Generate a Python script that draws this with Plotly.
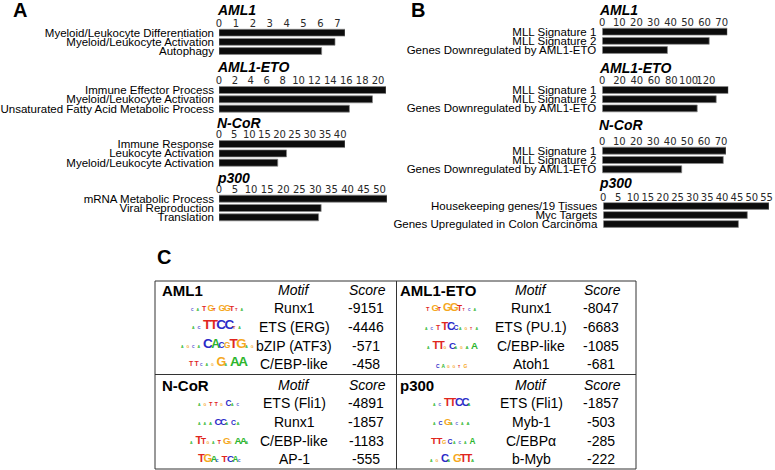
import plotly.graph_objects as go

W, H = 775, 470


def fx(x):
    return x / W


def fy(y):
    return 1 - y / H


# ---------------- Panel A data (GO terms) ----------------
groups = ["AML1", "AML1-ETO", "N-CoR", "p300"]

a_aml1_terms = ["Myeloid/Leukocyte Differentiation", "Myeloid/Leukocyte Activation", "Autophagy"]
a_aml1_vals = [7.45, 6.86, 6.07]
a_aml1eto_terms = ["Immune Effector Process", "Myeloid/Leukocyte Activation",
                   "Unsaturated Fatty Acid Metabolic Process"]
a_aml1eto_vals = [21.0, 19.3, 16.4]
a_ncor_terms = ["Immune Response", "Leukocyte Activation", "Myeloid/Leukocyte Activation"]
a_ncor_vals = [41.6, 22.3, 19.4]
a_p300_terms = ["mRNA Metabolic Process", "Viral Reproduction", "Translation"]
a_p300_vals = [52.3, 31.8, 31.0]
a_tick_step = [1, 2, 5, 5]
a_tick_last = [7, 20, 40, 50]

# ---------------- Panel B data (gene sets) ----------------
b_aml1_terms = ["MLL Signature 1", "MLL Signature 2", "Genes Downregulated by AML1-ETO"]
b_aml1_vals = [73.3, 62.7, 38.2]
b_aml1eto_terms = ["MLL Signature 1", "MLL Signature 2", "Genes Downregulated by AML1-ETO"]
b_aml1eto_vals = [146, 132, 110]
b_ncor_terms = ["MLL Signature 1", "MLL Signature 2", "Genes Downregulated by AML1-ETO"]
b_ncor_vals = [72.9, 71.3, 46.8]
b_p300_terms = ["Housekeeping genes/19 Tissues", "Myc Targets", "Genes Upregulated in Colon Carcinoma"]
b_p300_vals = [55.8, 48.5, 45.5]
b_tick_step = [10, 20, 10, 5]
b_tick_last = [70, 120, 70, 55]

# ---------------- Panel C data (motifs) ----------------
c_aml1_motifs = ["Runx1", "ETS (ERG)", "bZIP (ATF3)", "C/EBP-like"]
c_aml1_scores = [-9151, -4446, -571, -458]
c_aml1_logos = ["C1 A1 T5 G6.5 T3 G6.5 G6.5 T5.5 T3 A1",
                "A2 C3 T10 T10 C10 C10 T3 A1",
                "A1.5 G1.5 C1.5 A1.5 C12 A9 C6 G6 T10.5 G10.5 A1 G1",
                "T5 T5 C1 A1 G1 G9 A2 A11 A11"]
c_aml1eto_motifs = ["Runx1", "ETS (PU.1)", "C/EBP-like", "Atoh1"]
c_aml1eto_scores = [-8047, -6683, -1085, -681]
c_aml1eto_logos = ["T4 G7 T4 G8 G8 T6 T2 C1 A1",
                   "A1.5 C1.5 T5 T8 C8 C5 A1 G0.5 T0.5 A1",
                   "A1 T8 T8 G2 C7 A1 G1 A3 A7",
                   "C3.5 A3.5 G2.5 G2.5 T2.5 G3.5"]
c_ncor_motifs = ["ETS (Fli1)", "Runx1", "C/EBP-like", "AP-1"]
c_ncor_scores = [-4891, -1857, -1183, -555]
c_ncor_logos = ["A1 G1 T4 T4 G1.5 C6 A1.5 C0.5",
                "A1 A1.5 A3 C7 C7 A2.5 C5 A3",
                "A1 T8 T6 G1 A1.5 T4 G7 G1.5 A7 A7 A1.5",
                "T8 G8 A7 C2 T7 C7 A6 C1.5"]
c_p300_motifs = ["ETS (Fli1)", "Myb-1", "C/EBPα", "b-Myb"]
c_p300_scores = [-1857, -503, -285, -222]
c_p300_logos = ["A2 C2 T8 T8 C8 C8 A1.5",
                "A1 C4 G7 A1.5 C1.5 A1.5 A3",
                "T7 T7 G4 C5 A1 C1 A2 A6",
                "A1 G1 C8 A2 G8 T8 T8 A3"]

# ---------------- layout geometry (pixels) ----------------
a_x0 = 219
a_x1 = [345, 386, 345, 387]
a_ybox = [(28.1, 55.6), (85.4, 113.3), (139.4, 167.4), (194.0, 222.0)]
a_title_y = [10, 66.7, 123.3, 178.3]
b_x0 = [602.3, 602.3, 602.3, 603.3]
b_x1 = [727.3, 728.3, 726.0, 769.0]
b_ybox = [(27.1, 54.6), (85.4, 113.0), (146.0, 174.0), (201.5, 228.5)]
b_title_y = [10, 68.3, 125, 182.7]

LAB_FONT = "Liberation Sans, Arial, sans-serif"
TICK_FONT = "DejaVu Sans, sans-serif"

fig = go.Figure()
annotations = []
layout_axes = {}

panels = []
a_terms = [a_aml1_terms, a_aml1eto_terms, a_ncor_terms, a_p300_terms]
a_vals = [a_aml1_vals, a_aml1eto_vals, a_ncor_vals, a_p300_vals]
b_terms = [b_aml1_terms, b_aml1eto_terms, b_ncor_terms, b_p300_terms]
b_vals = [b_aml1_vals, b_aml1eto_vals, b_ncor_vals, b_p300_vals]
for k in range(4):
    panels.append(dict(terms=a_terms[k], vals=a_vals[k], step=a_tick_step[k], last=a_tick_last[k],
                       x0=a_x0, x1=a_x1[k], ybox=a_ybox[k], title=groups[k], ty=a_title_y[k], tx=215,
                       standoff=4))
for k in range(4):
    panels.append(dict(terms=b_terms[k], vals=b_vals[k], step=b_tick_step[k], last=b_tick_last[k],
                       x0=b_x0[k], x1=b_x1[k], ybox=b_ybox[k], title=groups[k], ty=b_title_y[k], tx=597,
                       standoff=5))

for i, p in enumerate(panels, start=1):
    sfx = "" if i == 1 else str(i)
    fig.add_trace(go.Bar(
        x=p["vals"], y=p["terms"], orientation="h",
        xaxis="x" + sfx, yaxis="y" + sfx,
        marker=dict(color="#0c0c0c", line=dict(color="#8a8a8a", width=0.7)),
        showlegend=False, hoverinfo="skip",
    ))
    layout_axes["xaxis" + sfx] = dict(
        domain=[fx(p["x0"]), fx(p["x1"])], range=[0, max(p["vals"])],
        anchor="y" + sfx, side="top",
        tickmode="array", tickvals=list(range(0, p["last"] + 1, p["step"])),
        tickangle=0, ticklabelstandoff=-2,
        ticks="", showgrid=False, zeroline=False, showline=False,
        tickfont=dict(family=TICK_FONT, size=10, color="#2a2a2a"),
        automargin=False, fixedrange=True,
    )
    layout_axes["yaxis" + sfx] = dict(
        domain=[fy(p["ybox"][1]), fy(p["ybox"][0])],
        anchor="x" + sfx, autorange="reversed", type="category",
        tickmode="array", tickvals=p["terms"], ticktext=p["terms"],
        ticklabelstandoff=p["standoff"],
        ticks="", showgrid=False, zeroline=False, showline=False,
        tickfont=dict(family=LAB_FONT, size=11.5, color="black"),
        automargin=False, fixedrange=True,
    )
    annotations.append(dict(
        x=fx(p["tx"]), y=fy(p["ty"]), xref="paper", yref="paper",
        xanchor="left", yanchor="middle", showarrow=False,
        text="<b><i>%s</i></b>" % p["title"],
        font=dict(family=LAB_FONT, size=14, color="black"),
    ))

# panel letters
for letter, (lx, ly) in zip(["A", "B", "C"], [(20, 10), (418, 10), (164, 257)]):
    annotations.append(dict(
        x=fx(lx), y=fy(ly), xref="paper", yref="paper", xanchor="center", yanchor="middle",
        showarrow=False, text="<b>%s</b>" % letter,
        font=dict(family=LAB_FONT, size=20, color="black"),
    ))

# ---------------- Panel C table ----------------
shapes = [
    dict(type="rect", xref="paper", yref="paper", x0=fx(155), x1=fx(636), y0=fy(469), y1=fy(281),
         line=dict(color="#333", width=1)),
    dict(type="line", xref="paper", yref="paper", x0=fx(396.5), x1=fx(396.5), y0=fy(469), y1=fy(281),
         line=dict(color="#333", width=1)),
    dict(type="line", xref="paper", yref="paper", x0=fx(155), x1=fx(636), y0=fy(374.5), y1=fy(374.5),
         line=dict(color="#333", width=1)),
]

logo_colors = {"A": "#2DB52D", "C": "#2B2BC8", "G": "#F5A81E", "T": "#E0261E"}
glyph_adv = {"A": 0.722, "C": 0.722, "G": 0.778, "T": 0.611}
CELL = 5.5      # min advance of one logo position (px)
SQUEEZE = 1.6   # how much large glyphs are tucked together (px)


def logo_html(spec):
    parts = []
    for tok in spec.split():
        letter, h = tok[0], float(tok[1:])
        size = min(13.5, max(3.5, h / 0.72))
        w = glyph_adv[letter] * size
        advance = max(CELL, w - SQUEEZE)
        parts.append('<span style="color:%s;font-size:%.1fpx;letter-spacing:%.2fpx">%s</span>'
                     % (logo_colors[letter], size, advance - w, letter))
    return "<b>" + "".join(parts) + "</b>"


blocks = [
    (groups[0], c_aml1_motifs, c_aml1_scores, c_aml1_logos, 160, 218, 294, 366, 290, [308.3, 326.7, 346, 364.3]),
    (groups[1], c_aml1eto_motifs, c_aml1eto_scores, c_aml1eto_logos, 398, 453, 531, 601, 290, [308.3, 326.7, 346, 364.3]),
    (groups[2], c_ncor_motifs, c_ncor_scores, c_ncor_logos, 160, 220, 294, 366, 385, [403.3, 422.3, 441, 459.3]),
    (groups[3], c_p300_motifs, c_p300_scores, c_p300_logos, 398, 453, 531, 601, 385, [403.3, 422, 441, 459.3]),
]
TF = dict(family=LAB_FONT, size=14, color="black")
for name, motifs, scores, logos, nx, lgx, mx, sx, hy, rows in blocks:
    annotations.append(dict(x=fx(nx), y=fy(hy), xref="paper", yref="paper", xanchor="left", yanchor="middle",
                            showarrow=False, text="<b>%s</b>" % name, font=dict(family=LAB_FONT, size=15, color="black")))
    annotations.append(dict(x=fx(mx), y=fy(hy), xref="paper", yref="paper", xanchor="center", yanchor="middle",
                            showarrow=False, text="<i>Motif</i>", font=TF))
    annotations.append(dict(x=fx(sx + 1), y=fy(hy), xref="paper", yref="paper", xanchor="center", yanchor="middle",
                            showarrow=False, text="<i>Score</i>", font=TF))
    for m, s, lg, ry in zip(motifs, scores, logos, rows):
        annotations.append(dict(x=fx(mx), y=fy(ry), xref="paper", yref="paper", xanchor="center", yanchor="middle",
                                showarrow=False, text=m, font=TF))
        annotations.append(dict(x=fx(sx), y=fy(ry), xref="paper", yref="paper", xanchor="center", yanchor="middle",
                                showarrow=False, text=str(s), font=TF))
        annotations.append(dict(x=fx(lgx), y=fy(ry + 7), xref="paper", yref="paper", xanchor="center", yanchor="bottom",
                                showarrow=False, text=logo_html(lg),
                                font=dict(family=LAB_FONT, size=10, color="black")))

fig.update_layout(
    width=W, height=H, template="none",
    margin=dict(l=0, r=0, t=0, b=0, pad=0),
    paper_bgcolor="white", plot_bgcolor="rgba(0,0,0,0)",
    bargap=0.25, showlegend=False,
    annotations=annotations, shapes=shapes,
    **layout_axes,
)

fig.write_html("out.html", config={"displayModeBar": False},
               post_script="document.body.style.margin='0px';")
